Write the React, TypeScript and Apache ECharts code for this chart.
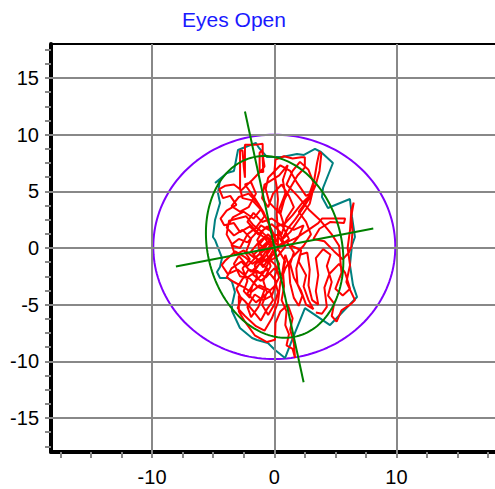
import React, { useEffect, useRef } from "react";
import * as echarts from "echarts";

const titleText = "Eyes Open";

const xLabelValues = [-10, 0, 10];
const xTickValues = [-17.5, -15, -12.5, -10, -7.5, -5, -2.5, 0, 2.5, 5, 7.5, 10, 12.5, 15, 17.5];
const xGridValues = [-10, 0, 10];
const yLabelValues = [-15, -10, -5, 0, 5, 10, 15];
const yTickValues = [
  -17.5, -16.25, -15, -13.75, -12.5, -11.25, -10, -8.75, -7.5, -6.25, -5, -3.75, -2.5, -1.25, 0,
  1.25, 2.5, 3.75, 5, 6.25, 7.5, 8.75, 10, 11.25, 12.5, 13.75, 15, 16.25, 17.5,
];
const yGridValues = [-15, -10, -5, 0, 5, 10, 15];

// reference circle (center, radius) in data units
const circleCenter = [0, 0.1];
const circleRadius = 9.9;

// confidence ellipse parameters
const ellipseCenter = [0.03, 0.1];
const ellipseSemiMajor = 8.1;
const ellipseSemiMinor = 5.5;
const ellipseAngleDeg = 101.4;

// ellipse axis lines
const majorAxisLine = [[-2.4, 12.05], [2.4, -11.85]];
const minorAxisLine = [[-8.05, -1.63], [8.1, 1.72]];

// hull polygon
const hull = [
  [-4.85, 5.74], [-3.87, 6.62], [-3.3, 6.8], [-2.97, 8.65], [-2.15, 9.0], [-1.5, 9.27], [-1.25, 8.83],
  [-0.6, 8.03], [0.63, 8.03], [1.86, 8.3], [2.43, 8.21], [3.33, 8.74], [3.82, 8.47], [4.8, 7.5],
  [3.99, 5.3], [3.9, 4.5], [4.39, 3.53], [6.19, 4.32], [6.36, 2.74], [6.6, 0.97], [6.36, 0.26],
  [6.19, -1.5], [6.44, -3.27], [6.77, -4.32], [4.56, -6.8], [2.51, -5.3], [1.45, -8.12], [0.88, -9.71],
  [0.06, -9.0], [-0.52, -8.39], [-1.42, -8.12], [-1.82, -7.94], [-2.81, -7.06], [-3.46, -5.56],
  [-3.46, -5.03], [-3.22, -3.88], [-3.46, -2.99], [-3.79, -2.65], [-4.44, -2.65], [-4.69, -2.12],
  [-4.44, -1.68], [-4.28, -0.88], [-4.85, 0.71], [-5.02, 0.97], [-4.85, 2.47], [-4.44, 3.97],
  [-4.61, 4.85], [-4.44, 6.0], [-4.85, 5.74],
];

// centre-of-pressure trace
const trace = [
  [0.2, 0.6], [0.5, 1.4], [-0.2, 2.1], [-0.9, 1.6], [-1.4, 0.7], [-0.8, -0.2], [-1.6, -0.9], [-2.3, -0.3],
  [-1.9, 0.8], [-2.6, 1.6], [-3.3, 1.1], [-3.9, 1.8], [-3.4, 2.7], [-2.5, 3.2], [-1.7, 2.6], [-1.1, 3.4],
  [-1.8, 4.2], [-2.6, 4.4], [-2.8, 5.2], [-2.8, 7.0], [-2.8, 8.6], [-2.6, 8.6], [-2.5, 7.2], [-2.4, 6.2],
  [-2.4, 7.8], [-2.4, 9.1], [-1.6, 9.1], [-0.95, 9.2], [-0.95, 8.0], [-0.9, 6.7], [-1.2, 6.7], [-1.2, 8.4],
  [-1.0, 8.6], [-0.8, 7.2], [-1.0, 6.9], [-1.8, 6.0], [-2.7, 5.1], [-3.3, 5.6], [-4.0, 5.5], [-4.5, 5.2],
  [-4.2, 4.4], [-3.6, 4.6], [-3.1, 3.8], [-3.9, 3.3], [-4.4, 2.6], [-4.1, 2.0], [-3.3, 2.2], [-2.8, 1.4],
  [-2.0, 1.9], [-1.3, 1.2], [-0.6, 1.9], [0.0, 1.2], [-0.5, 0.4], [-1.2, -0.4], [-0.6, -1.3], [0.3, -0.7],
  [0.9, 0.1], [0.4, 0.9], [-0.3, 0.3], [-1.0, -0.8], [-1.8, -1.4], [-2.4, -0.8], [-3.2, -0.3], [-4.0, -1.1],
  [-4.3, -1.5], [-3.8, -2.3], [-3.0, -1.9], [-2.2, -2.6], [-1.4, -2.0], [-0.7, -2.6], [0.0, -1.8], [0.6, -2.4],
  [0.9, -1.2], [0.3, -0.1], [0.3, 1.4], [0.2, 3.0], [0.3, 4.3], [0.2, 5.4], [0.0, 6.6], [0.1, 7.8],
  [0.8, 8.1], [1.5, 7.9], [2.2, 8.0], [2.5, 8.0], [2.5, 7.1], [1.9, 6.4], [1.3, 5.3], [0.8, 4.2], [0.5, 3.0],
  [-0.4, 4.0], [-0.7, 5.2], [-0.5, 6.2], [0.5, 7.3], [1.3, 6.8], [1.9, 5.7], [2.6, 4.6], [3.1, 4.9],
  [3.3, 6.2], [3.5, 7.5], [3.7, 8.5], [3.85, 8.3], [3.7, 6.8], [3.4, 5.6], [3.0, 4.6], [2.4, 3.6], [1.7, 2.5],
  [1.1, 1.7], [0.6, 0.7], [1.3, 1.4], [2.2, 2.8], [2.9, 3.9], [3.1, 4.8], [2.3, 4.0], [1.5, 2.9], [0.9, 2.2],
  [0.2, 1.9], [0.8, 0.4], [1.8, 0.9], [2.8, 1.6], [3.6, 2.2], [3.9, 2.6], [5.0, 2.6], [5.8, 2.6], [5.7, 2.2],
  [4.6, 2.3], [3.7, 1.7], [3.2, 0.8], [4.1, 0.6], [4.9, -0.3], [5.6, -1.0], [6.1, -0.4], [6.3, 0.1],
  [6.4, 1.5], [6.3, 2.8], [6.5, 4.0], [6.3, 3.3], [6.2, 1.6], [6.0, 0.0], [6.2, -1.5], [5.9, -3.0],
  [6.6, -4.6], [6.2, -5.0], [5.5, -5.5], [5.1, -6.5], [4.7, -6.0], [4.9, -4.9], [4.4, -4.2], [4.7, -3.0],
  [4.3, -1.6], [4.6, -0.6], [4.0, -0.1], [3.4, -0.9], [3.6, -2.4], [3.4, -3.8], [3.6, -5.0], [3.1, -4.6],
  [2.8, -3.3], [2.9, -1.9], [2.7, -0.4], [2.1, -0.6], [1.8, -1.8], [1.9, -3.2], [2.3, -4.2], [2.0, -5.1],
  [1.6, -4.4], [1.3, -3.1], [1.2, -1.6], [0.9, -0.6], [0.7, -1.9], [0.8, -3.4], [0.6, -4.6], [1.0, -5.6],
  [0.9, -6.8], [1.2, -7.6], [1.0, -8.6], [1.5, -8.9], [1.7, -9.7], [1.6, -8.4], [1.3, -7.2], [1.5, -6.2],
  [1.1, -5.0], [0.5, -5.6], [0.1, -6.6], [0.06, -8.1], [-0.6, -8.3], [-1.6, -7.7], [-2.4, -6.5], [-2.9, -5.6],
  [-2.9, -5.0], [-2.9, -4.2], [-2.4, -4.7], [-1.7, -5.6], [-1.1, -6.4], [-0.6, -5.4], [-0.1, -4.6],
  [-0.4, -3.7], [-1.2, -3.3], [-1.9, -3.9], [-2.6, -3.4], [-3.3, -3.0], [-3.9, -2.6], [-3.5, -1.8],
  [-2.7, -1.2], [-1.9, -2.1], [-1.2, -1.4], [-0.5, -0.9], [0.1, -1.5], [0.4, -2.6], [0.0, -3.4], [-0.8, -4.2],
  [-1.5, -4.8], [-2.2, -4.0], [-1.6, -3.0], [-0.9, -2.2], [-0.2, -0.7], [0.5, 0.2], [1.2, 0.8], [0.7, 1.9],
  [-0.2, 2.6], [-1.0, 2.3], [-1.7, 3.1], [-2.2, 2.3], [-1.5, 1.5], [-0.8, 0.9], [-0.1, -0.2], [-0.9, -1.7],
  [-1.7, -0.6], [-0.6, 0.5], [0.2, 0.6],
  [-0.3, 1.5], [-1.1, 2.0], [-1.6, 1.2], [-2.2, 0.5], [-2.9, 0.8], [-3.5, 0.3], [-3.2, -0.6], [-2.5, -0.2],
  [-2.0, -1.0], [-2.6, -1.8], [-2.2, -2.9], [-2.5, -3.8], [-2.0, -4.4], [-1.8, -3.3], [-1.4, -2.6],
  [-1.6, -1.5], [-1.0, -0.9], [-1.3, 0.2], [-0.7, 1.0], [-0.2, 0.4], [-0.6, -0.5], [-0.3, -1.6], [-0.9, -2.9],
  [-0.6, -3.9], [-1.0, -5.0], [-0.5, -5.9], [0.0, -5.0], [0.3, -3.9], [0.0, -2.6], [0.4, -1.4], [0.0, -0.6],
  [-0.4, 0.8], [-1.0, 1.4], [-1.7, 2.0], [-2.3, 2.8], [-3.0, 2.6], [-3.7, 2.4], [-3.9, 1.2], [-3.4, 0.2],
  [-2.8, 0.0], [-2.2, 1.2], [-1.5, 1.8], [-0.8, 2.8], [-1.3, 3.9], [-2.1, 4.8], [-2.9, 4.5], [-3.5, 3.7],
  [-2.8, 3.2], [-2.1, 3.6], [-1.5, 4.8], [-1.9, 5.8], [-2.4, 5.6], [-1.6, 4.4], [-0.9, 3.2], [-0.4, 2.0],
  [0.1, 0.9], [-0.4, -0.3], [-1.1, -1.2], [-1.8, -2.3], [-1.1, -2.9], [-0.4, -2.2], [0.2, -3.0], [-0.2, -4.2],
  [-0.9, -4.6], [-1.6, -4.1], [-2.2, -5.2], [-1.9, -6.1], [-1.3, -5.2], [-0.8, -3.7], [-1.4, -3.4],
  [-2.0, -2.7], [-2.8, -2.5], [-3.3, -1.4], [-2.9, -0.7], [-2.2, -1.6], [-1.5, -0.8], [-0.8, -0.1],
  [-0.2, 1.1], [0.6, 1.2], [1.0, 2.6], [1.6, 3.6], [1.2, 4.6], [0.6, 5.6], [-0.1, 4.8], [-0.5, 3.6],
  [-1.0, 4.4], [-0.8, 5.6], [0.4, 6.4], [1.1, 7.3], [0.7, 6.0], [0.9, 4.8], [0.4, 3.4], [0.8, 2.0],
  [1.6, 1.6], [2.4, 2.0], [2.0, 1.0], [1.4, 0.2], [2.2, -0.2], [2.0, -1.2], [2.6, -2.4], [2.4, -3.4],
  [2.8, -4.6], [3.2, -5.4], [2.6, -5.0], [2.2, -3.8], [1.6, -2.6], [1.3, -1.4], [1.6, -0.4], [1.0, 0.6],
  [0.3, 0.2], [-0.5, 1.2], [-1.2, 0.6], [-1.9, -0.3], [-1.3, -1.1], [-0.5, -1.9], [-1.2, -2.2], [-2.1, -1.9],
  [-2.7, -2.9], [-3.1, -3.6], [-2.7, -4.5], [-3.0, -5.3],
  [-2.4, -6.0], [-1.5, -6.9], [-0.8, -7.3], [-0.2, -6.2], [0.3, -4.8], [0.5, -3.0], [0.9, -1.8], [1.5, -0.8],
  [2.4, 0.2], [3.0, 1.2], [2.6, 2.3], [2.0, 3.2], [2.7, 4.2], [3.2, 5.8], [2.8, 6.9], [2.1, 7.6], [1.5, 6.8],
  [1.0, 5.6], [1.9, 4.6], [2.9, 3.3], [3.8, 2.4], [4.7, 1.2], [5.3, 0.2], [5.5, -2.2], [5.0, -3.6],
  [5.6, -4.2], [6.2, -3.6], [5.8, -2.2], [5.3, -1.4], [4.5, -2.3], [4.1, -3.5], [4.3, -5.2], [3.9, -5.8],
  [3.4, -5.7],
];

const X_MIN = -18.27;
const X_MAX = 18.06;
const Y_MIN = -18;
const Y_MAX = 18;

function circlePoints(): number[][] {
  const pts: number[][] = [];
  const n = 180;
  for (let i = 0; i <= n; i++) {
    const t = (i / n) * Math.PI * 2;
    pts.push([circleCenter[0] + circleRadius * Math.cos(t), circleCenter[1] + circleRadius * Math.sin(t)]);
  }
  return pts;
}

function ellipsePoints(): number[][] {
  const pts: number[][] = [];
  const n = 180;
  const th = (ellipseAngleDeg * Math.PI) / 180;
  for (let i = 0; i <= n; i++) {
    const t = (i / n) * Math.PI * 2;
    const ca = ellipseSemiMajor * Math.cos(t);
    const sb = ellipseSemiMinor * Math.sin(t);
    pts.push([
      ellipseCenter[0] + ca * Math.cos(th) - sb * Math.sin(th),
      ellipseCenter[1] + ca * Math.sin(th) + sb * Math.cos(th),
    ]);
  }
  return pts;
}

const FONT = "'Liberation Sans', Arial, Helvetica, sans-serif";

export default function App() {
  const ref = useRef<HTMLDivElement>(null);
  useEffect(() => {
    if (!ref.current) return;
    const chart = echarts.init(ref.current, null, { renderer: "svg" });
    const lineBase = {
      type: "line",
      showSymbol: false,
      symbol: "none",
      smooth: false,
      silent: true,
      clip: false,
    };
    chart.setOption({
      animation: false,
      backgroundColor: "#ffffff",
      title: {
        text: titleText,
        left: 229,
        top: 4,
        textAlign: "center",
        textStyle: { color: "#1a1aff", fontSize: 21, fontWeight: "normal", fontFamily: FONT },
      },
      grid: { left: 51, right: 0, top: 44, bottom: 37, containLabel: false },
      xAxis: [
        {
          type: "value",
          min: X_MIN,
          max: X_MAX,
          position: "bottom",
          axisLine: { show: true, onZero: false, lineStyle: { color: "#000", width: 4 } },
          axisTick: { show: true, customValues: xTickValues, length: 6, lineStyle: { color: "#888", width: 2 } },
          axisLabel: { show: true, customValues: xLabelValues, fontSize: 20, color: "#000", margin: 15, fontFamily: FONT },
          splitLine: { show: false },
        },
        {
          type: "value",
          min: X_MIN,
          max: X_MAX,
          position: "top",
          axisLine: { show: true, onZero: false, lineStyle: { color: "#000", width: 2 } },
          axisTick: { show: false },
          axisLabel: { show: false },
          splitLine: { show: false },
        },
      ],
      yAxis: {
        type: "value",
        min: Y_MIN,
        max: Y_MAX,
        position: "left",
        axisLine: { show: true, onZero: false, lineStyle: { color: "#000", width: 4 } },
        axisTick: { show: true, customValues: yTickValues, length: 6, lineStyle: { color: "#888", width: 2 } },
        axisLabel: { show: true, customValues: yLabelValues, fontSize: 20, color: "#000", margin: 12, fontFamily: FONT },
        splitLine: { show: false },
      },
      series: [
        {
          ...lineBase,
          name: "grid",
          data: [],
          z: 1,
          markLine: {
            silent: true,
            symbol: "none",
            label: { show: false },
            animation: false,
            lineStyle: { color: "#888", width: 2, type: "solid" },
            data: [
              ...xGridValues.map((v) => ({ xAxis: v })),
              ...yGridValues.map((v) => ({ yAxis: v })),
            ],
          },
        },
        { ...lineBase, name: "circle", data: circlePoints(), z: 3, lineStyle: { color: "#8000ff", width: 2 } },
        { ...lineBase, name: "hull", data: hull, z: 4, lineStyle: { color: "#008080", width: 2 } },
        { ...lineBase, name: "trace", data: trace, z: 5, lineStyle: { color: "#ff0000", width: 2 } },
        { ...lineBase, name: "ellipse", data: ellipsePoints(), z: 6, lineStyle: { color: "#008000", width: 2 } },
        { ...lineBase, name: "major", data: majorAxisLine, z: 6, lineStyle: { color: "#008000", width: 2 } },
        { ...lineBase, name: "minor", data: minorAxisLine, z: 6, lineStyle: { color: "#008000", width: 2 } },
      ],
    });
    return () => chart.dispose();
  }, []);
  return (
    <div
      ref={ref}
      style={{ position: "fixed", left: 0, top: 0, width: 495, height: 489, background: "#fff" }}
    />
  );
}
